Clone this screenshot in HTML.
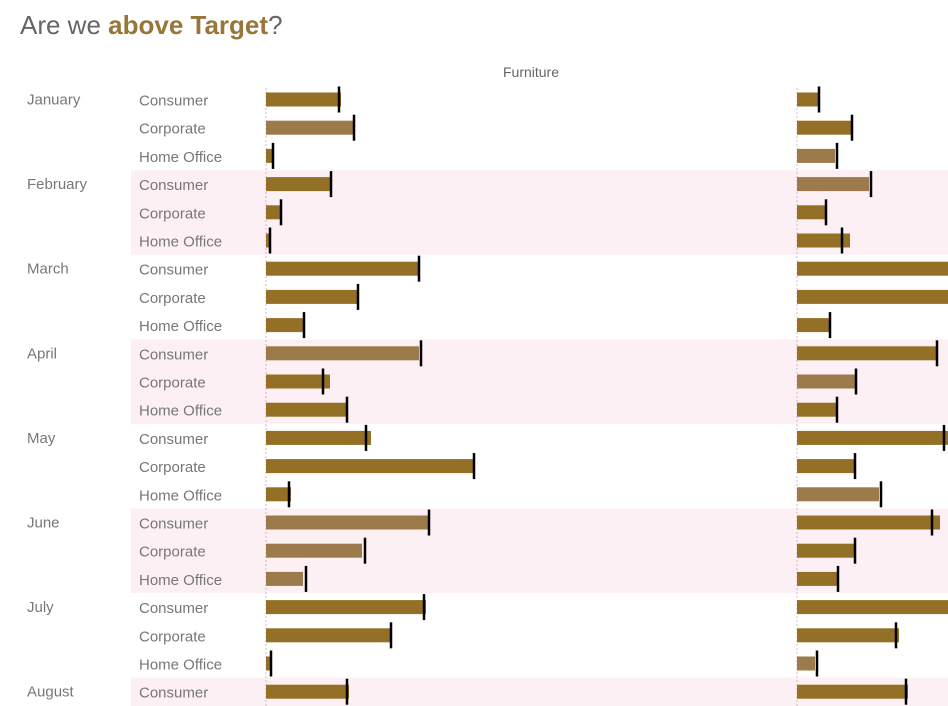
<!DOCTYPE html>
<html><head><meta charset="utf-8"><style>
html,body{margin:0;background:#fff;font-family:"Liberation Sans",sans-serif;overflow:hidden;width:948px;height:706px;}
#wrap{position:relative;width:948px;height:706px;overflow:hidden;}
svg{display:block;}
</style></head><body>
<div id="wrap">
<svg id="chart" width="948" height="706"></svg>
</div>
<script>
const months = ["January","February","March","April","May","June","July","August"];
const segments = ["Consumer","Corporate","Home Office"];
// Furniture panel: sales and target (per month × segment)
const leftSales =  [75,87,7, 65,15,4, 154,92,38, 153,64,81, 105,209,25, 162,96,37, 160,125,6, 83];
const leftTarget = [73,88,7, 65,15,4, 153,92,38, 155,57,81, 100,208,23, 163,99,40, 158,125,5, 81];
// Second panel (clipped at right edge)
const rightSales =  [23,55,38, 72,29,53, 200,200,33, 140,58,41, 155,59,82, 143,58,41, 200,102,18, 111];
const rightTarget = [22,55,40, 74,29,45, 195,195,33, 140,59,40, 147,58,84, 135,58,41, 195,99,20, 109];

const svg = document.getElementById('chart');
const NS = 'http://www.w3.org/2000/svg';
function mk(tag, attrs, parent){const e=document.createElementNS(NS,tag);for(const k in attrs)e.setAttribute(k,attrs[k]);(parent||svg).appendChild(e);return e;}
const rowTop = 85.5, rowH = 28.2;
function yRow(i){return rowTop + i*rowH;}
function xLeft(v){return 266 + v;}
function xRight(v){return 797 + v;}

const t = mk('text',{x:20,y:34,'font-size':26,fill:'#666'});


t.innerHTML = 'Are we <tspan fill="#98763a" font-weight="bold">above Target</tspan>?';

months.forEach((m,mi)=>{
  if(mi%2===1){
    const b = mk('rect',{x:131,y:yRow(mi*3),width:817,height:rowH*3,fill:'#fdf0f4'});
    
    
  }
});
const hdr = mk('text',{x:531,y:77,'font-size':14,fill:'#666','text-anchor':'middle'});


hdr.textContent='Furniture';

[266,797].forEach(x=>{
  const l = mk('line',{x1:x,x2:x,y1:88,y2:706,stroke:'#d8b8c4','stroke-dasharray':'2,2','stroke-width':1});
  
  
});

months.forEach((m,mi)=>{
  const tx = mk('text',{x:27,y:yRow(mi*3)+19,'font-size':15,fill:'#777'});
  
  
  tx.textContent=m;
});

const n = leftSales.length;
for(let i=0;i<n;i++){
  const seg = segments[i%3];
  const y = yRow(i);
  const sl = mk('text',{x:139,y:y+20,'font-size':15,fill:'#777'});
  
  
  sl.textContent=seg;
  [[leftSales,leftTarget,xLeft],[rightSales,rightTarget,xRight]].forEach(([S,T,X])=>{
    const below = S[i] < T[i];
    const bar = mk('rect',{x:X(0),y:y+7,width:S[i],height:14,fill:below?'#9c7a4a':'#946f26'});
    
    
    const tk = mk('rect',{x:X(T[i])-1.25,y:y+1,width:2.5,height:26,fill:'#000'});
    
    
  });
}
</script>
</body></html>
